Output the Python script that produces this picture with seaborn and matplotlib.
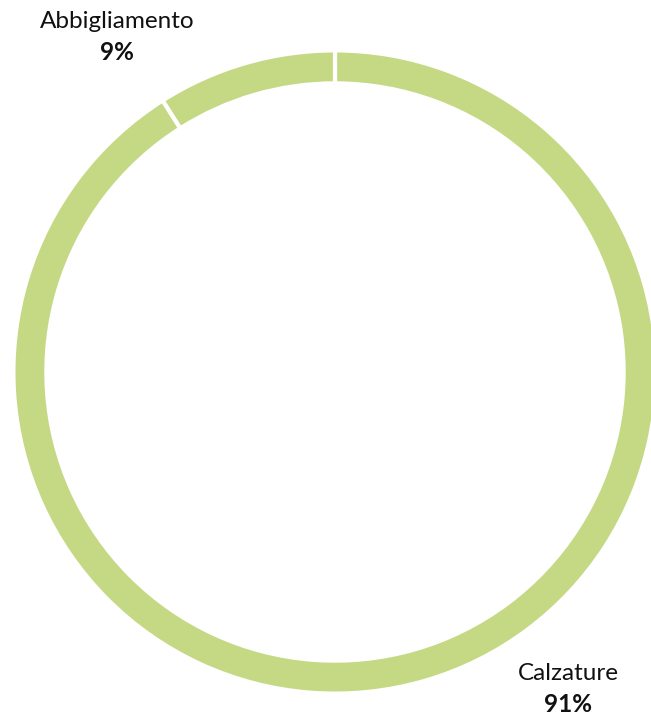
import matplotlib
matplotlib.use("Agg")
import matplotlib.pyplot as plt
import seaborn as sns

# data
categories = ["Calzature", "Abbigliamento"]
shares = [91, 9]

sns.set_theme(style="white")
plt.rcParams['font.family'] = ['Lato', 'DejaVu Sans']

ring_color = "#c5d985"

fig = plt.figure(figsize=(6.51, 7.18), dpi=100)
# axes: ring centre at (335, 372) px, outer radius 320 px
ax = fig.add_axes([15 / 651, (718 - 372 - 320) / 718, 640 / 651, 640 / 718])

ax.pie(shares, colors=[ring_color] * len(shares), startangle=90,
       counterclock=False, radius=1.005,
       wedgeprops=dict(width=0.103, edgecolor="white", linewidth=3))
ax.set_xlim(-1, 1)
ax.set_ylim(-1, 1)
ax.set_aspect("equal")
ax.axis("off")

# labels (pixel positions of the text in the figure)
label_pos = {"Abbigliamento": (117, 22), "Calzature": (568, 673)}
for cat, val in zip(categories, shares):
    px, py = label_pos[cat]
    fig.text(px / 651, 1 - py / 718, cat, ha="center", va="center",
             fontsize=17.5, color="#111111")
    fig.text(px / 651, 1 - (py + 31) / 718, f"{val}%", ha="center", va="center",
             fontsize=17.5, fontweight="bold", color="#111111")

fig.savefig("out.png", dpi=100)
